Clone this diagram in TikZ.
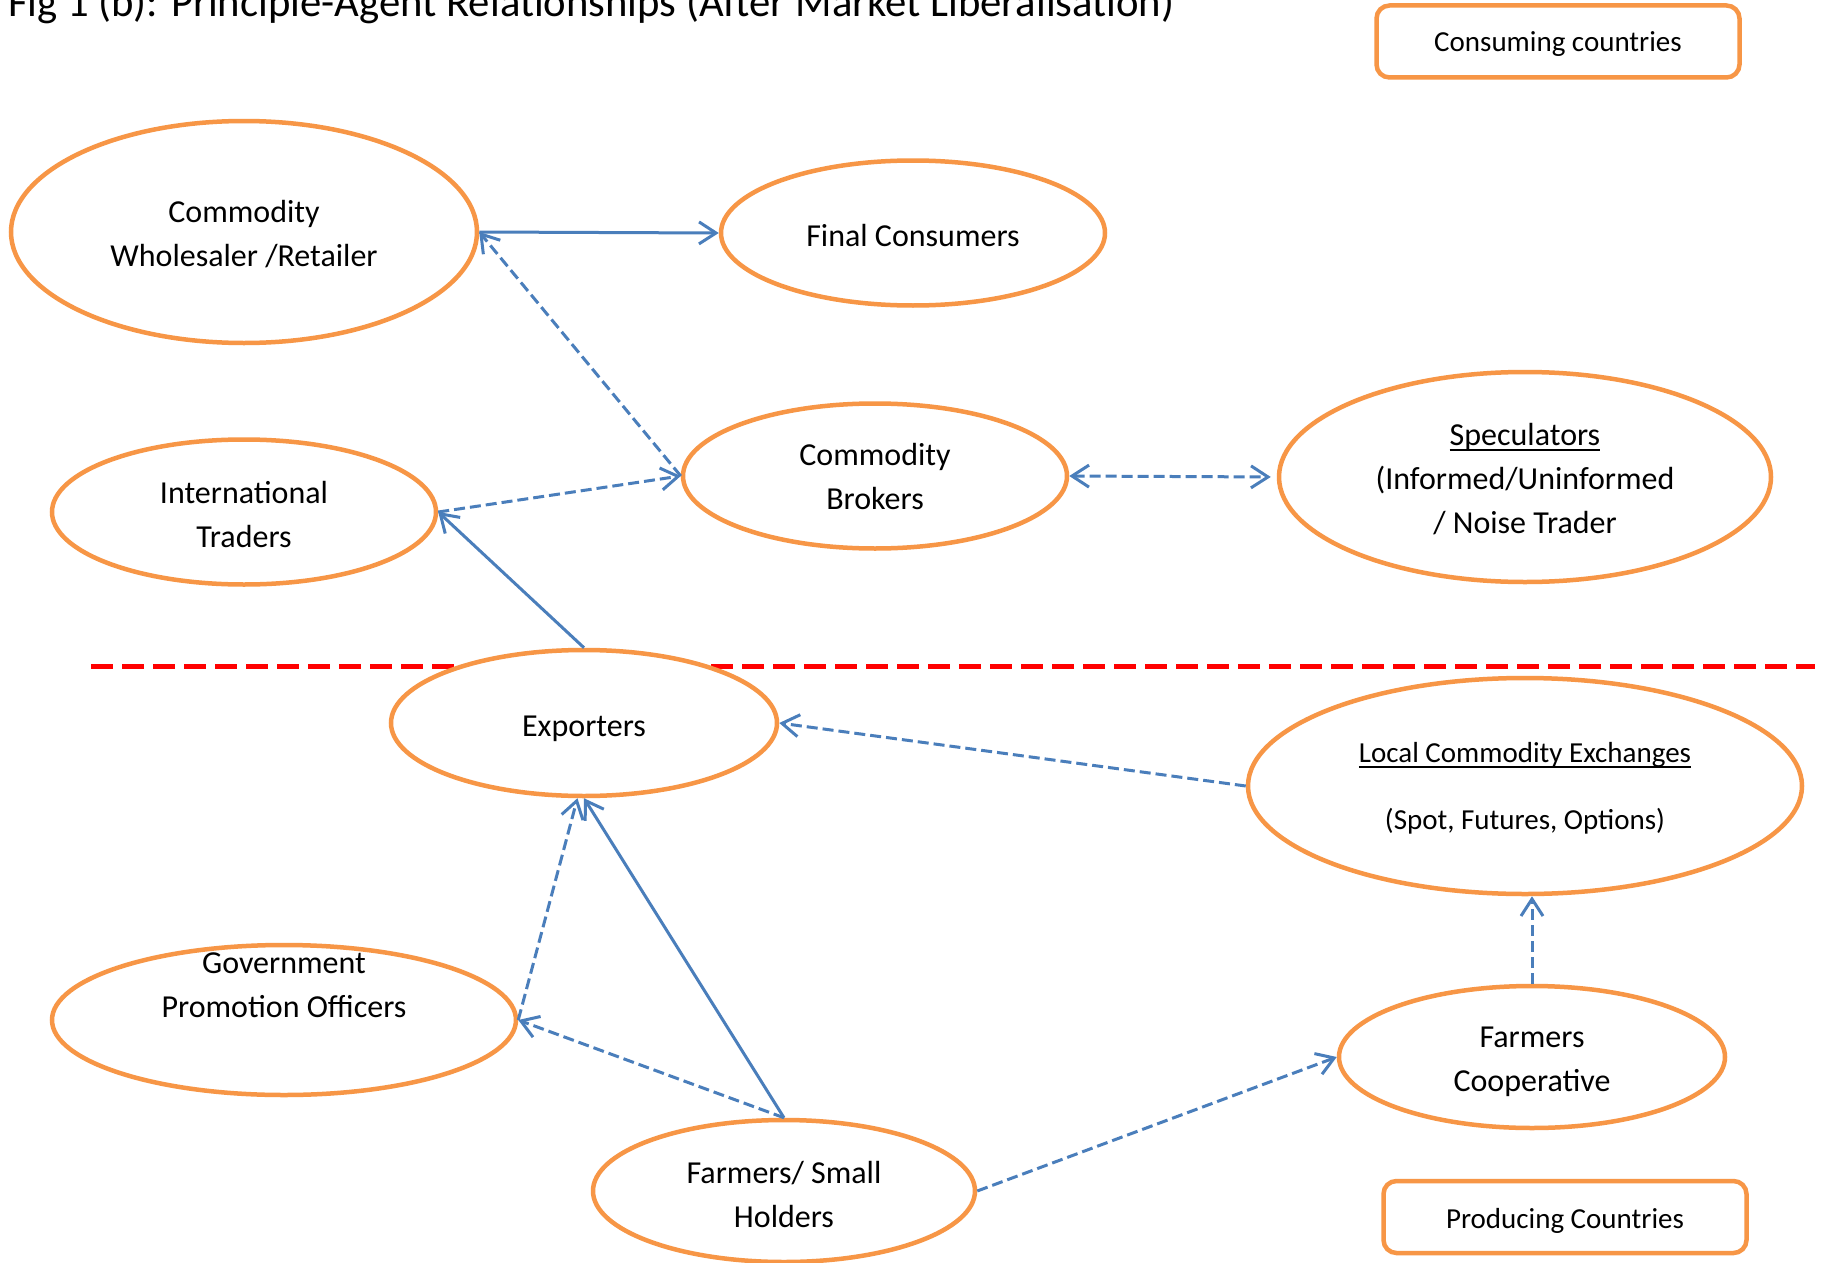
\documentclass[tikz,border=0pt]{standalone}
\usepackage{fontspec}
\setmainfont{Carlito}
\usetikzlibrary{arrows.meta,shapes.geometric}
\definecolor{orng}{HTML}{F79646}
\definecolor{lblue}{HTML}{4A7EBB}
\newcommand\ulx[1]{\setbox0=\hbox{#1}\rlap{\rule[-5pt]{\wd0}{2pt}}\box0}
\begin{document}
\begin{tikzpicture}[x=1pt,y=1pt,
  ell/.style={ellipse, draw=orng, line width=4.5pt, fill=white, inner sep=0pt},
  txt/.style={inner sep=0pt, align=center, font=\fontsize{32}{44}\selectfont},
  stxt/.style={inner sep=0pt, align=center, font=\fontsize{29}{33.5}\selectfont},
  boxn/.style={draw=orng, line width=4.5pt, rounded corners=13pt, fill=white, inner sep=0pt, minimum width=363, minimum height=72},
  con/.style={draw=lblue, line width=3pt, -{Straight Barb[length=17pt,width=22pt]}},
  dcon/.style={con, dash pattern=on 11pt off 5pt}]
\useasboundingbox (0,0) rectangle (1824,-1263);
\fill[white] (0,0) rectangle (1824,-1263);
% divider
\coordinate (rl) at (91,-666);
\coordinate (rr) at (1815,-666);
\draw[red, line width=5pt, dash pattern=on 22pt off 9pt] (rl) -- (rr);
% title
\node[anchor=base west, inner sep=0pt, font=\fontsize{42.7}{50}\selectfont] (title) at (8,-17) {Fig 1 (b): Principle-Agent Relationships (After Market Liberalisation)};
% ellipses
\node[ell, minimum width=466, minimum height=222] (whole) at (244,-232) {};
\node[ell, minimum width=384, minimum height=145] (fin) at (913,-233) {};
\node[ell, minimum width=384, minimum height=145] (intl) at (244,-512) {};
\node[ell, minimum width=384, minimum height=145] (brk) at (875,-476) {};
\node[ell, minimum width=492, minimum height=210] (spec) at (1525,-477) {};
\node[ell, minimum width=386, minimum height=146] (exp) at (584,-723) {};
\node[ell, minimum width=554, minimum height=216] (lce) at (1525,-786) {};
\node[ell, minimum width=464, minimum height=150] (gov) at (284,-1020) {};
\node[ell, minimum width=386, minimum height=142] (coop) at (1532,-1057) {};
\node[ell, minimum width=382, minimum height=142] (farm) at (784,-1191) {};
% texts
\node[txt] (whole-t) at (244,-234) {Commodity\\Wholesaler /Retailer};
\node[txt] (fin-t) at (913,-235.5) {Final Consumers};
\node[txt] (intl-t) at (244,-514.5) {International\\Traders};
\node[txt] (brk-t) at (875,-476.5) {Commodity\\Brokers};
\node[txt] (spec-t) at (1525,-479.5) {\ulx{Speculators}\\(Informed/Uninformed\\/ Noise Trader};
\node[txt] (exp-t) at (584,-729) {Exporters};
\node[stxt] (lce-t) at (1525,-788.5) {\ulx{Local Commodity Exchanges}\\[33.5pt](Spot, Futures, Options)};
\node[txt] (gov-t) at (284,-985) {Government\\Promotion Officers};
\node[txt] (coop-t) at (1532,-1062) {Farmers\\Cooperative};
\node[txt] (farm-t) at (784,-1194.5) {Farmers/ Small\\Holders};
% legend boxes
\node[boxn] (cons) at (1558,-41.5) {};
\node[stxt] (cons-t) at (1558,-44.5) {Consuming countries};
\node[boxn] (prod) at (1565,-1217) {};
\node[stxt] (prod-t) at (1565,-1220.5) {Producing Countries};
% connectors
\draw[con] (whole.east) -- (fin.west);
\draw[dcon] (brk.west) -- (whole.east);
\draw[dcon] (intl.east) -- (brk.west);
\draw[dcon, {Straight Barb[length=17pt,width=22pt]}-{Straight Barb[length=17pt,width=22pt]}, shorten >=6pt] (brk.east) -- (spec.west);
\draw[con] (exp.north) -- (intl.east);
\draw[dcon] (lce.west) -- (exp.east);
\draw[dcon] (gov.east) -- (exp.265);
\draw[con] (farm.north) -- (exp.south);
\draw[dcon] (farm.north) -- (gov.east);
\draw[dcon] (farm.east) -- (coop.west);
\draw[dcon] (coop.north) -- (coop.north |- lce.south);
\end{tikzpicture}
\end{document}
